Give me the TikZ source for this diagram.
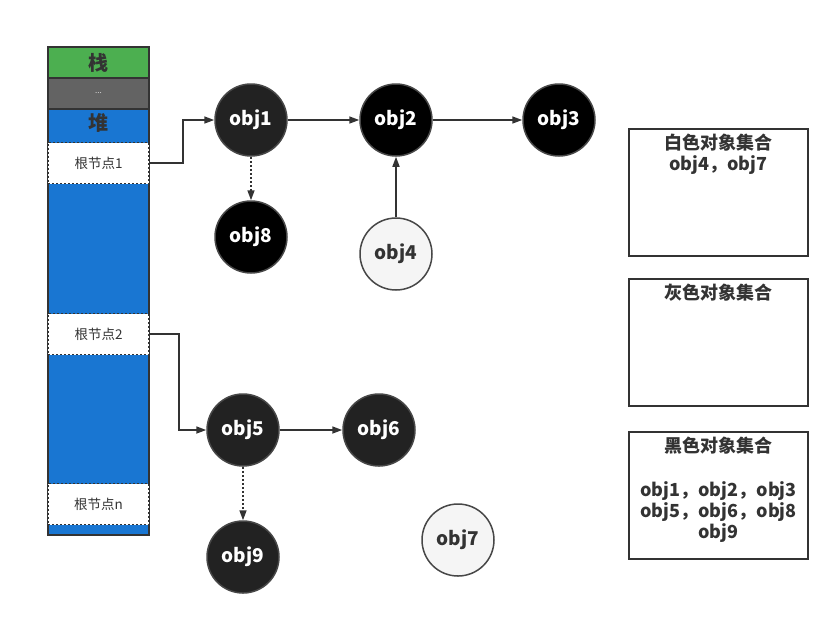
\documentclass[tikz,border=0pt]{standalone}
\usepackage{fontspec}
\setmainfont{Noto Sans CJK SC}
\usetikzlibrary{arrows.meta,positioning}
\definecolor{stackgreen}{HTML}{4CAF50}
\definecolor{stackgray}{HTML}{636363}
\definecolor{heapblue}{HTML}{1976D2}
\definecolor{linegray}{HTML}{333333}
\definecolor{darkobj}{HTML}{222222}
\definecolor{whiteobj}{HTML}{F5F5F5}
\tikzset{
  cell/.style={minimum width=101pt, minimum height=31pt, inner sep=0pt, text=linegray,
    font=\fontsize{20}{22}\selectfont\bfseries},
  rootbox/.style={fill=white, draw=linegray, line width=1.5pt, dash pattern=on 2pt off 2pt,
    minimum width=101pt, minimum height=41pt, inner sep=0pt, text=linegray,
    font=\fontsize{13.5}{15}\selectfont},
  obj/.style={circle, minimum size=72pt, inner sep=0pt, draw=linegray!90, line width=1.5pt,
    font=\fontsize{19}{22}\selectfont\bfseries},
  blackobj/.style={obj, fill=black, text=white},
  grayobj/.style={obj, fill=darkobj, text=white},
  whiteobj/.style={obj, fill=whiteobj, text=linegray},
  setbox/.style={draw=linegray, line width=2pt, minimum width=179pt, minimum height=127pt, inner sep=0pt},
  settext/.style={anchor=north, align=center, inner sep=0pt, text=linegray,
    font=\fontsize{18}{21}\selectfont\bfseries},
  arr/.style={draw=linegray, line width=1.6pt, -{Triangle[length=10pt,width=7pt]}},
  dotarr/.style={arr, dash pattern=on 2pt off 2pt}
}
\begin{document}
\begin{tikzpicture}[x=1pt,y=-1pt]
  \useasboundingbox (0,0) rectangle (840,625);
  % stack and heap:
  \fill [heapblue] (48,108) rectangle (149,535);
  \node [cell, fill=stackgreen] (zhan) at (98.5,62.5) {栈};
  \node [cell, fill=stackgray, text=white!75!gray, font=\fontsize{8}{9}\selectfont] (dots) at (98.5,93) {...};
  \node [cell, text=linegray] (dui) at (98.5,123) {堆};
  \draw [linegray, line width=2pt] (48,47) rectangle (149,535);
  \draw [linegray, line width=2pt] (zhan.south west) -- (zhan.south east);
  \draw [linegray, line width=2pt] (dots.south west) -- (dots.south east);
  % roots:
  \node [rootbox] (r1) at (98.5,163) {根节点1};
  \node [rootbox] (r2) at (98.5,334) {根节点2};
  \node [rootbox] (rn) at (98.5,504) {根节点n};
  % objects:
  \node [grayobj]  (obj1) at (251,120) {obj1};
  \node [blackobj] (obj2) at (396,120) {obj2};
  \node [blackobj] (obj3) at (559,120) {obj3};
  \node [blackobj] (obj8) at (251,237) {obj8};
  \node [whiteobj] (obj4) at (396,254) {obj4};
  \node [grayobj]  (obj5) at (243,430) {obj5};
  \node [grayobj]  (obj6) at (379,430) {obj6};
  \node [grayobj]  (obj9) at (243,557) {obj9};
  \node [whiteobj] (obj7) at (458,540) {obj7};
  % references:
  \draw [arr] (r1.east) -- ++(33,0) |- (obj1);
  \draw [arr] (r2.east) -- ++(29,0) |- (obj5);
  \draw [arr] (obj1) -- (obj2);
  \draw [arr] (obj2) -- (obj3);
  \draw [arr] (obj4) -- (obj2);
  \draw [arr] (obj5) -- (obj6);
  \draw [dotarr] (obj1) -- (obj8);
  \draw [dotarr] (obj5) -- (obj9);
  % sets:
  \node [setbox] (white) at (718.5,192.5) {};
  \node [settext] (whitetext) at ([yshift=-6pt]white.north) {白色对象集合\\obj4，obj7};
  \node [setbox] (gray) at (718.5,342) {};
  \node [settext] (graytext) at ([yshift=-6pt]gray.north) {灰色对象集合};
  \node [setbox] (black) at (718.5,495.5) {};
  \node [settext] (blacktext) at ([yshift=-6pt]black.north) {黑色对象集合\\[23pt]obj1，obj2，obj3\\obj5，obj6，obj8\\obj9};
\end{tikzpicture}
\end{document}
